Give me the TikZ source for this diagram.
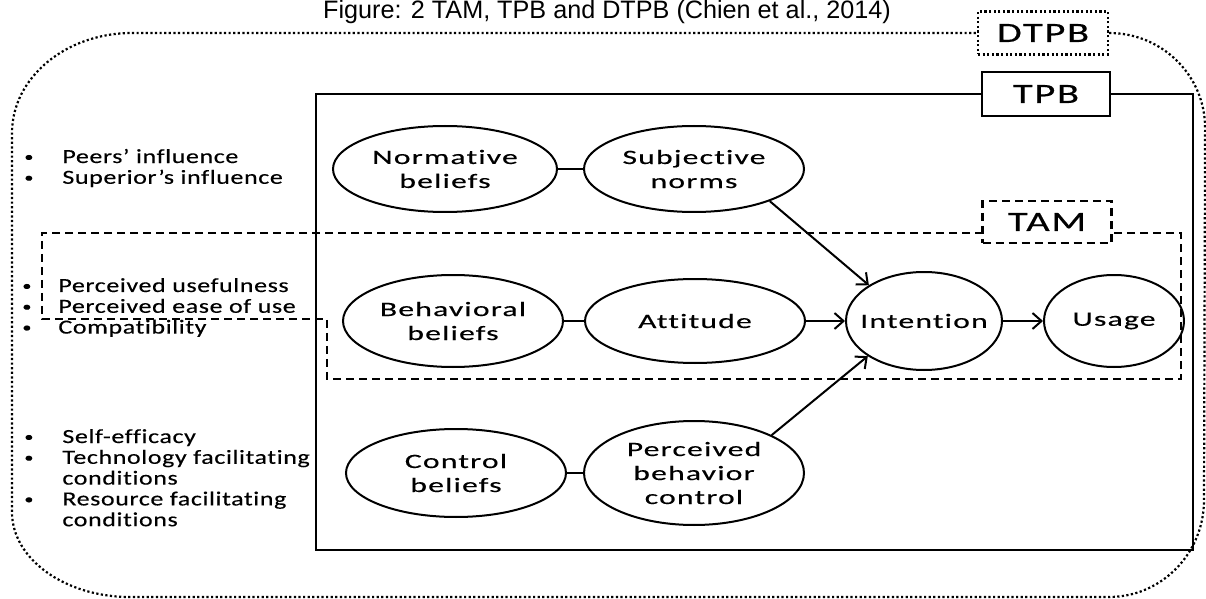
\documentclass[tikz,border=0pt]{standalone}
\usepackage{fontspec}
\setmainfont{Carlito}
\newfontfamily\titlefont{Liberation Sans}
\newfontfamily\ellfont[FakeStretch=1.55,LetterSpace=6,FakeBold=0.4,Ligatures=NoCommon]{Carlito}
\newfontfamily\listfont[FakeStretch=1.3,LetterSpace=3,FakeBold=0.3,Ligatures=NoCommon]{Carlito}
\newfontfamily\tagfont[FakeStretch=1.45,LetterSpace=6,FakeBold=0.4,Ligatures=NoCommon]{Carlito}
\usepackage{tikz}
\usetikzlibrary{shapes.geometric, positioning, arrows.meta}
\tikzset{
  model/.style={ellipse, draw, line width=1pt, inner xsep=-12pt, inner ysep=-4pt, align=center,
    font=\ellfont\fontsize{10.2}{12}\selectfont},
  arrow/.style={line width=1pt, -{Straight Barb[length=4.5pt, width=8pt, line width=1pt]}},
  link/.style={line width=1pt},
  tag/.style={draw, fill=white, inner sep=0pt, font=\tagfont\fontsize{14}{14}\selectfont},
  factors/.style={anchor=base west, inner sep=0pt, font=\listfont\fontsize{10}{10.4}\selectfont},
  dtpbline/.style={line width=1.1pt, dash pattern=on 1.1pt off 1.2pt},
  tpbline/.style={line width=0.75pt},
  tamline/.style={line width=1.2pt, dash pattern=on 4pt off 2.5pt},
}
\newcommand{\bul}{\raisebox{0.8pt}{\fontsize{7}{7}\selectfont\textbullet}}

\begin{document}
\begin{tikzpicture}[x=0.5pt, y=-0.5pt]
    \useasboundingbox (0,0) rectangle (1206,599);
    \node[anchor=base, font=\titlefont\fontsize{12.6}{15}\selectfont] (title) at (607,19) {Figure: 2 TAM, TPB and DTPB (Chien et al., 2014)};

    % model frames
    \node[tag, dtpbline, minimum width=65pt, minimum height=21.5pt] (dtpb) at (1043,33) {DTPB};
    \draw[dtpbline] (dtpb.east) arc[start angle=270, end angle=360, x radius=96, y radius=95]
        -- (1204,500) arc[start angle=0, end angle=90, x radius=95, y radius=97]
        -- (130,597) arc[start angle=90, end angle=180, x radius=118, y radius=85]
        -- (12,133) arc[start angle=180, end angle=270, x radius=120, y radius=100]
        -- (dtpb.west);
    \draw[tpbline] (982,94) -- (316,94) -- (316,550) -- (1193,550) -- (1193,94) -- (1110,94);
    \node[tag, tpbline, minimum width=64pt, minimum height=22pt] (tpb) at (1046,94) {TPB};
    \draw[tamline] (983,233) -- (42,233) -- (42,319) -- (327,319) -- (327,379) -- (1181,379) -- (1181,233) -- (1112,233);
    \node[tag, tamline, minimum width=64.5pt, minimum height=21pt] (tam) at (1047,222) {TAM};

    % constructs
    \node[model, minimum width=112pt, minimum height=43pt] (nb) at (445,169) {Normative\\beliefs};
    \node[model, minimum width=110pt, minimum height=43pt, right=12.5pt of nb] (sn) {Subjective\\norms};
    \node[model, minimum width=110pt, minimum height=46pt] (bb) at (453,321) {Behavioral\\beliefs};
    \node[model, minimum width=110pt, minimum height=42pt, right=10pt of bb] (att) {Attitude};
    \node[model, minimum width=78pt, minimum height=49pt, right=19.5pt of att] (int) {Intention};
    \node[model, minimum width=70pt, minimum height=46pt, right=20pt of int] (use) {Usage};
    \node[model, minimum width=110pt, minimum height=44pt] (cb) at (456,473) {Control\\beliefs};
    \node[model, minimum width=110pt, minimum height=52pt, right=8pt of cb] (pbc) {Perceived\\behavior\\control};

    \draw[link] (nb) -- (sn);
    \draw[link] (bb) -- (att);
    \draw[link] (cb) -- (pbc);
    \draw[arrow] (att) -- (int);
    \draw[arrow] (int) -- (use);
    \draw[arrow] (sn.-23) -- (int.147);
    \draw[arrow] (pbc.26) -- (int.212);

    % decomposed factors
    \node[factors] (social) at (24,163) {\begin{tabular}[t]{@{}p{19pt}@{}l@{}}
        \bul & Peers’ influence\\
        \bul & Superior’s influence
    \end{tabular}};
    \node[factors] (usefulness) at (22,292) {\begin{tabular}[t]{@{}p{18pt}@{}l@{}}
        \bul & Perceived usefulness\\
        \bul & Perceived ease of use\\
        \bul & Compatibility
    \end{tabular}};
    \node[factors] (control) at (24,443) {\begin{tabular}[t]{@{}p{19pt}@{}l@{}}
        \bul & Self-efficacy\\
        \bul & Technology facilitating\\
             & conditions\\
        \bul & Resource facilitating\\
             & conditions
    \end{tabular}};
\end{tikzpicture}
\end{document}
